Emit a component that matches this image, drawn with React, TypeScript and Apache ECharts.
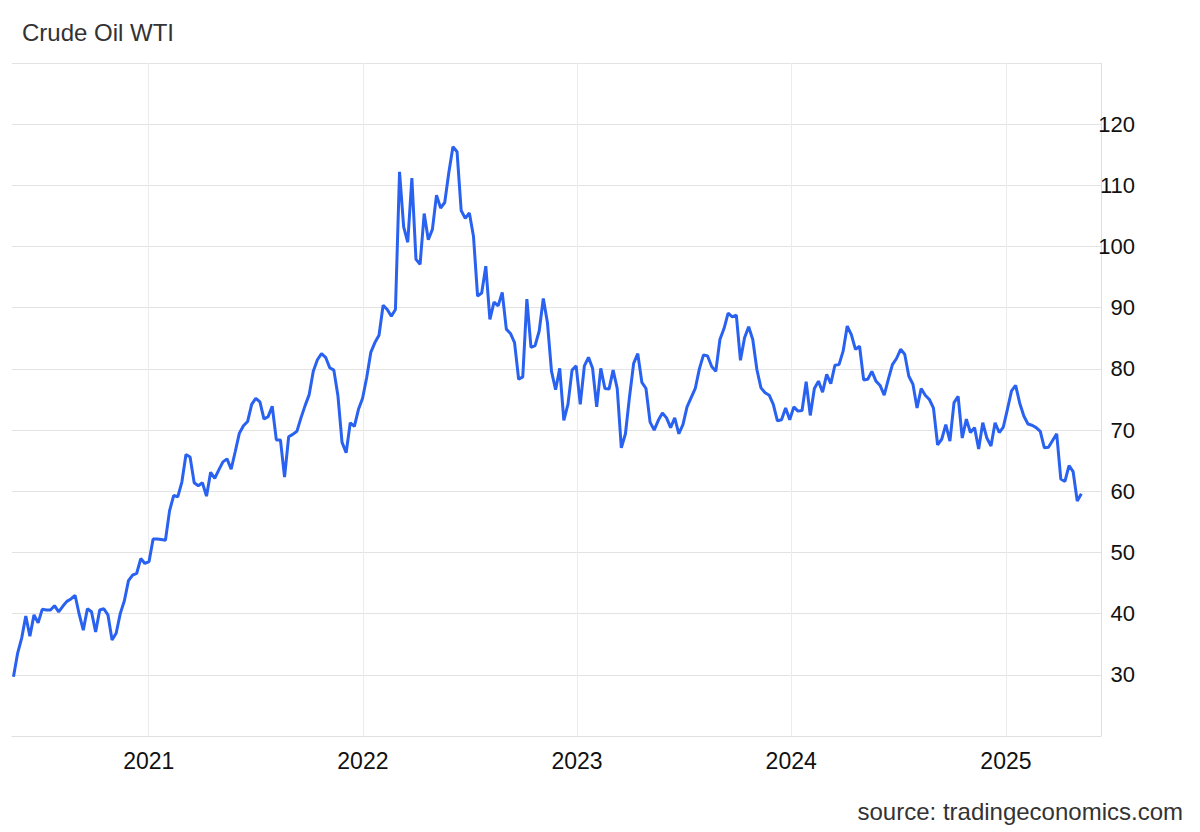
import React, { useEffect, useRef } from "react";
import * as echarts from "echarts";

// Weekly closes (USD/bbl), one value per Friday starting 2020-05-15
const FIRST_WEEK = [2020, 4, 15];
const wti2020 = [
  29.7, 33.5, 36.0, 39.6, 36.3, 39.8, 38.5, 40.7, 40.6, 40.6, 41.3, 40.3, 41.2, 42.0, 42.4, 43.0,
  39.9, 37.3, 40.8, 40.3, 37.0, 40.6, 40.8, 39.8, 35.7, 36.8, 40.0, 42.1, 45.4, 46.3, 46.6, 49.0,
  48.2, 48.5,
];
const wti2021 = [
  52.2, 52.2, 52.1, 52.0, 56.8, 59.3, 59.1, 61.5, 66.0, 65.6, 61.4, 60.9, 61.4, 59.2, 63.1, 62.1,
  63.5, 64.8, 65.3, 63.6, 66.5, 69.5, 70.7, 71.4, 74.2, 75.2, 74.6, 71.8, 72.2, 73.9, 68.4, 68.4,
  62.3, 68.9, 69.3, 69.8, 72.0, 74.0, 75.8, 79.6, 81.5, 82.5, 81.9, 80.2, 79.8, 75.6, 68.0, 66.3,
  71.2, 70.6, 73.4, 75.2,
];
const wti2022 = [
  78.6, 82.7, 84.3, 85.5, 90.4, 89.7, 88.6, 89.7, 112.2, 103.2, 100.7, 111.2, 97.9, 97.1, 105.4,
  101.1, 102.8, 108.4, 106.3, 107.2, 112.1, 116.3, 115.5, 105.9, 104.6, 105.5, 101.7, 91.9, 92.4,
  96.8, 88.1, 90.9, 90.3, 92.5, 86.5, 85.8, 84.3, 78.3, 78.7, 91.4, 83.5, 83.8, 86.2, 91.5, 87.6,
  79.6, 76.6, 80.1, 71.6, 74.2, 79.8, 80.5,
];
const wti2023 = [
  74.2, 80.5, 81.9, 80.1, 73.8, 80.1, 76.8, 76.7, 79.8, 76.8, 67.1, 69.4, 75.5, 80.9, 82.5, 77.8,
  76.8, 71.3, 70.0, 71.6, 72.8, 72.0, 70.4, 72.0, 69.4, 70.9, 73.8, 75.3, 76.8, 80.0, 82.3, 82.1,
  80.4, 79.6, 84.8, 86.6, 89.1, 88.5, 88.8, 81.4, 85.1, 86.9, 84.8, 79.9, 76.9, 76.1, 75.7, 74.2,
  71.5, 71.7, 73.6, 71.7,
];
const wti2024 = [
  73.8, 73.1, 73.2, 77.9, 72.4, 76.8, 78.0, 76.2, 79.1, 77.6, 80.6, 80.7, 82.9, 87.0, 85.6, 83.2,
  83.7, 78.2, 78.3, 79.6, 78.0, 77.3, 75.7, 78.3, 80.7, 81.7, 83.2, 82.4, 78.8, 77.5, 73.6, 76.8,
  75.7, 75.0, 73.6, 67.6, 68.5, 70.9, 68.2, 74.5, 75.5, 68.7, 71.8, 69.6, 70.4, 66.9, 71.2, 68.7,
  67.4, 71.2, 69.6, 70.5,
];
const wti2025 = [
  73.4, 76.4, 77.3, 74.4, 72.3, 71.0, 70.8, 70.4, 69.8, 67.1, 67.2, 68.3, 69.4, 62.0, 61.6, 64.2,
  63.2, 58.4, 59.6,
];

const X_MIN = [2020, 4, 13];
const X_MAX = [2025, 5, 12];
const Y_TICKS = [30, 40, 50, 60, 70, 80, 90, 100, 110, 120];

const DAY = 86400000;

export default function App() {
  const ref = useRef<HTMLDivElement>(null);

  useEffect(() => {
    if (!ref.current) return;
    const chart = echarts.init(ref.current, null, { renderer: "svg" });
    const values = [...wti2020, ...wti2021, ...wti2022, ...wti2023, ...wti2024, ...wti2025];
    const start = new Date(FIRST_WEEK[0], FIRST_WEEK[1], FIRST_WEEK[2], 12).getTime();
    const data = values.map((v, i) => [start + i * 7 * DAY, v]);
    const font = "'Liberation Sans', Arial, sans-serif";

    chart.setOption({
      animation: false,
      backgroundColor: "#ffffff",
      title: {
        text: "Crude Oil WTI",
        left: 17,
        top: 15,
        textStyle: { fontFamily: font, fontSize: 24, fontWeight: "normal", color: "#333333" },
      },
      graphic: [
        {
          type: "text",
          right: 17,
          top: 799,
          style: {
            text: "source: tradingeconomics.com",
            fontFamily: font,
            fontSize: 24,
            fill: "#333333",
          },
        },
      ],
      grid: { left: 12, right: 99, top: 63, bottom: 96, containLabel: false },
      xAxis: {
        type: "time",
        min: new Date(X_MIN[0], X_MIN[1], X_MIN[2]).getTime(),
        max: new Date(X_MAX[0], X_MAX[1], X_MAX[2]).getTime(),
        minInterval: 365 * DAY,
        axisLine: { show: true, lineStyle: { color: "#e0e0e0", width: 1 } },
        axisTick: { show: false },
        splitLine: {
          show: true,
          showMinLine: false,
          showMaxLine: false,
          lineStyle: { color: "#ececec", width: 1 },
        },
        axisLabel: {
          showMinLabel: false,
          showMaxLabel: false,
          margin: 13,
          fontFamily: font,
          fontSize: 23,
          color: "#111111",
          formatter: (val: number) => String(new Date(val).getFullYear()),
        },
      },
      yAxis: {
        type: "value",
        position: "right",
        min: 20,
        max: 130,
        interval: 10,
        axisLine: { show: true, lineStyle: { color: "#e0e0e0", width: 1 } },
        axisTick: { show: false },
        splitLine: { show: true, lineStyle: { color: "#e3e3e3", width: 1 } },
        axisLabel: {
          margin: 34,
          align: "right",
          fontFamily: font,
          fontSize: 22,
          color: "#111111",
          formatter: (v: number) => (Y_TICKS.includes(v) ? String(v) : ""),
        },
      },
      series: [
        {
          type: "line",
          data,
          showSymbol: false,
          symbol: "none",
          lineStyle: { color: "#2962f0", width: 3 },
          itemStyle: { color: "#2962f0" },
          z: 3,
        },
      ],
    });

    return () => chart.dispose();
  }, []);

  return (
    <div
      ref={ref}
      style={{ position: "absolute", left: 0, top: 0, width: 1200, height: 832 }}
    />
  );
}
